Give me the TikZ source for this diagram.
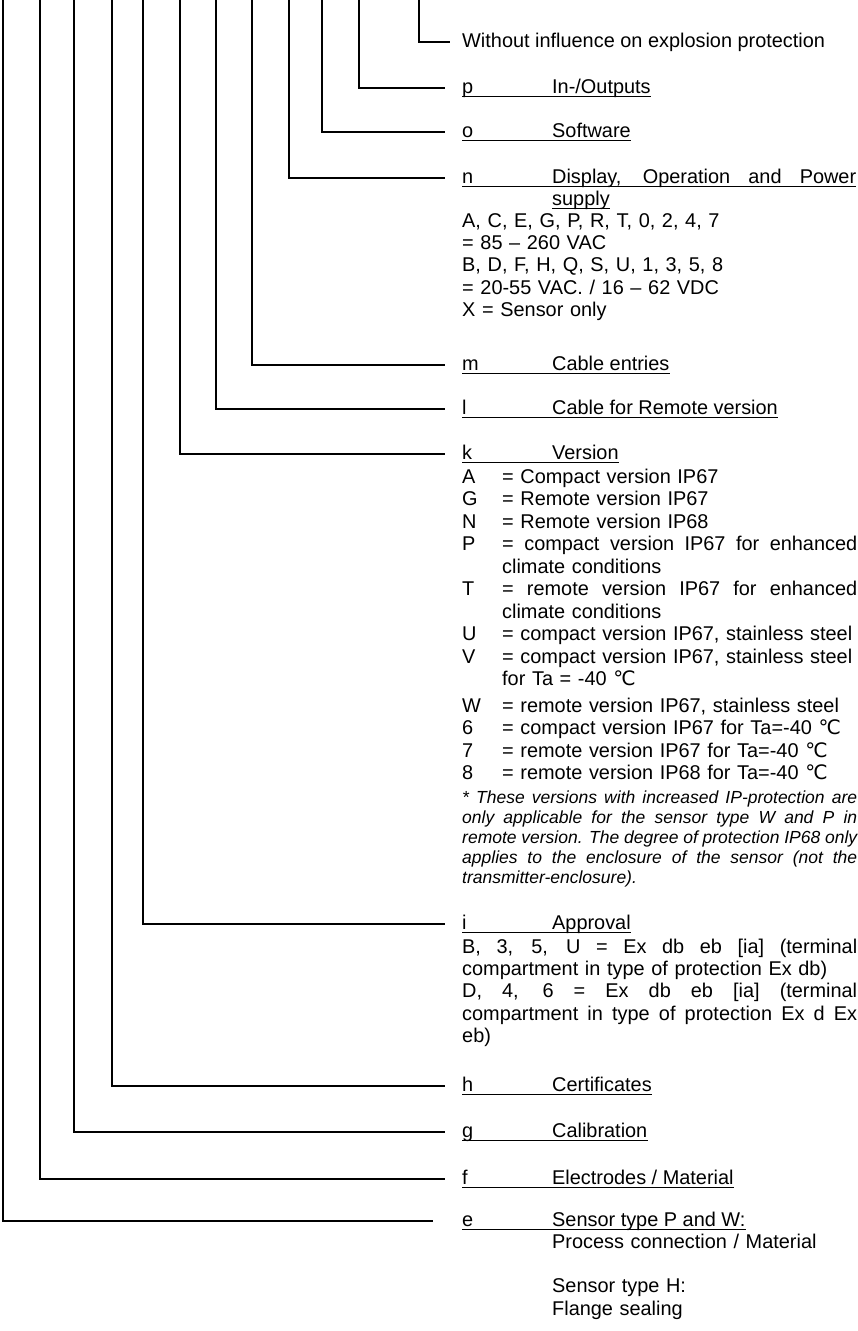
\documentclass[tikz,border=0pt]{standalone}
\usepackage{fontspec}
\setmainfont{Liberation Sans}
\newfontfamily\symf{DejaVu Sans}
\usetikzlibrary{positioning}

\newcommand\fsz{\fontsize{19.9pt}{22.4pt}\selectfont}
\newcommand\notesz{\fontsize{17.5pt}{20pt}\selectfont\itshape}
\newcommand\degc{{\symf ℃}}
\newcommand\tab[1]{\makebox[90pt][l]{#1}}
\newcommand\itm[1]{\makebox[40pt][l]{#1}}
\newcommand\jline[2]{\makebox[#1][s]{\spaceskip=0pt \xspaceskip=0pt #2}}

\tikzset{
  lead/.style={line width=1.5pt, shorten >=17pt},
  hdr/.style={anchor=base west, inner sep=0pt, font=\fsz, text height=14pt, text depth=4pt},
  body/.style={anchor=base west, inner sep=0pt, font=\fsz, align=left, text width=395pt},
  note/.style={anchor=base west, inner sep=0pt, font=\notesz, align=left, text width=395pt},
  uln/.style={line width=1.6pt},
}

\begin{document}
\begin{tikzpicture}[x=1pt, y=-1pt]
\useasboundingbox (0,0) rectangle (857,1331);

% tops of the lead lines
\foreach \c/\x in {e/3, f/40, g/74, h/112, i/143, k/180, l/216, m/252, n/289, o/322, p/359, w/419}
  \coordinate (t\c) at (\x,0);

% code positions
\node[hdr] (hw) at (462,47) {Without influence on explosion protection};
\node[hdr] (hp) at (462,93) {\tab{p}In-/Outputs};
\node[hdr] (ho) at (462,137) {\tab{o}Software};
\node[hdr] (hn) at (462,183) {\tab{n}\jline{304pt}{Display, Operation and Power}};
\node[hdr] (hn2) at (552,205) {supply};
\node[hdr] (hm) at (462,370) {\tab{m}Cable entries};
\node[hdr] (hl) at (462,414) {\tab{l}Cable for Remote version};
\node[hdr] (hk) at (462,459) {\tab{k}Version};
\node[hdr] (hi) at (462,929) {\tab{i}Approval};
\node[hdr] (hh) at (462,1091) {\tab{h}Certificates};
\node[hdr] (hg) at (462,1137) {\tab{g}Calibration};
\node[hdr] (hf) at (462,1184) {\tab{f}Electrodes / Material};
\node[hdr] (he) at (462,1226) {\tab{e}Sensor type P and W:};

% details
\node[body] (bn) at (462,227) {A, C, E, G, P, R, T, 0, 2, 4, 7\\
  = 85 – 260 VAC\\
  B, D, F, H, Q, S, U, 1, 3, 5, 8\\
  = 20-55 VAC. / 16 – 62 VDC\\
  X = Sensor only};
\node[body, font=\fontsize{19.9pt}{22.5pt}\selectfont] (bk) at (462,483) {\itm{A}= Compact version IP67\\
  \itm{G}= Remote version IP67\\
  \itm{N}= Remote version IP68\\
  \itm{P}\jline{355pt}{= compact version IP67 for enhanced}\\
  \itm{}climate conditions\\
  \itm{T}\jline{355pt}{= remote version IP67 for enhanced}\\
  \itm{}climate conditions\\
  \itm{U}= compact version IP67, stainless steel\\
  \itm{V}= compact version IP67, stainless steel\\
  \itm{}for Ta = -40 \degc\\[4pt]
  \itm{W}= remote version IP67, stainless steel\\
  \itm{6}= compact version IP67 for Ta=-40 \degc\\
  \itm{7}= remote version IP67 for Ta=-40 \degc\\
  \itm{8}= remote version IP68 for Ta=-40 \degc};
\node[note] (nk) at (462,803) {\jline{395pt}{* These versions with increased IP-protection are}\\
  \jline{395pt}{only applicable for the sensor type W and P in}\\
  \jline{395pt}{remote version. The degree of protection IP68 only}\\
  \jline{395pt}{applies to the enclosure of the sensor (not the}\\
  transmitter-enclosure).};
\node[body] (bi) at (462,953) {\jline{395pt}{B, 3, 5, U = Ex db eb [ia] (terminal}\\
  compartment in type of protection Ex db)\\
  \jline{395pt}{D, 4, 6 = Ex db eb [ia] (terminal}\\
  \jline{395pt}{compartment in type of protection Ex d Ex}\\
  eb)};
\node[body, text width=305pt] (be) at (552,1248) {Process connection / Material\\[22.4pt]
  Sensor type H:\\
  Flange sealing};

% lead lines
\foreach \c in {p, o, n, m, l, k, i, h, g, f}
  \draw[lead] (t\c) |- (h\c);
\draw[lead, shorten >=12pt] (tw) |- (hw);
\draw[lead, shorten >=29pt] (te) |- (he);

% underlines
\foreach \c in {p, o, n, n2, m, l, k, i, h, g, f, e}
  \draw[uln] ([yshift=-3.5pt]h\c.base west) -- ([yshift=-3.5pt]h\c.base east);
\end{tikzpicture}
\end{document}
